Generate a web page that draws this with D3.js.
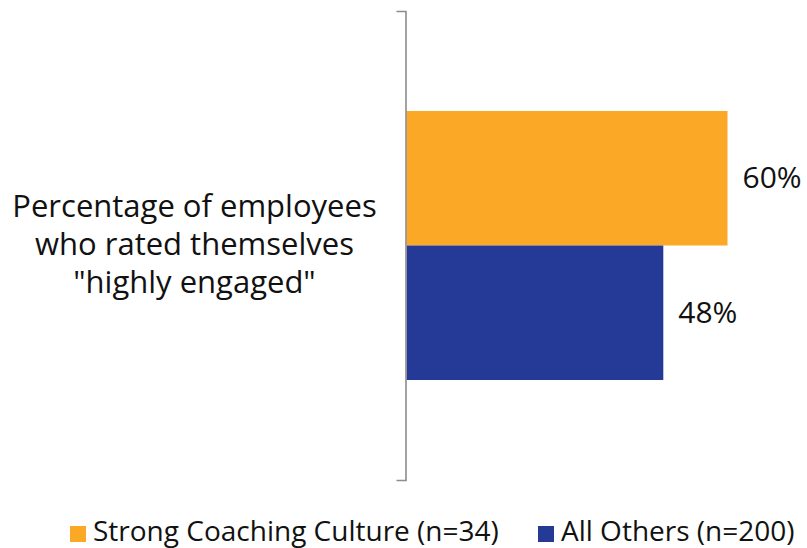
<!DOCTYPE html>
<html>
<head>
<meta charset="utf-8">
<script src="https://cdn.jsdelivr.net/npm/d3@7"></script>
<style>
  html, body { margin: 0; padding: 0; background: #fff; }
  svg { display: block; font-family: "Open Sans", Lato, sans-serif; }
</style>
</head>
<body>
<svg id="chart" width="807" height="548"></svg>
<script>
// Survey result: share of employees rating themselves "highly engaged"
const categories = ['Percentage of employees who rated themselves "highly engaged"'];
const categoryLines = ["Percentage of employees", "who rated themselves", "\"highly engaged\""];
const seriesNames = ["Strong Coaching Culture (n=34)", "All Others (n=200)"];
const seriesValues = [60, 48];
const seriesColors = ["#FBA827", "#243A96"];

const svg = d3.select("#chart");

const x = d3.scaleLinear().domain([0, 75]).range([406.5, 807.75]);
const y0 = d3.scaleBand().domain(categories).range([11, 480]);
const y1 = d3.scaleBand()
  .domain(seriesNames)
  .range([y0.bandwidth() * 0.2132, y0.bandwidth() * (1 - 0.2132)]);

// Bars
const g = svg.append("g").attr("transform", `translate(0,${y0(categories[0])})`);
g.selectAll("rect")
  .data(seriesNames.map((s, i) => ({ s, v: seriesValues[i], c: seriesColors[i] })))
  .join("rect")
  .attr("x", x(0))
  .attr("y", d => y1(d.s))
  .attr("width", d => x(d.v) - x(0))
  .attr("height", y1.bandwidth())
  .attr("fill", d => d.c);

// Value labels
g.selectAll("text.val")
  .data(seriesNames.map((s, i) => ({ s, v: seriesValues[i] })))
  .join("text")
  .attr("class", "val")
  .attr("x", d => x(d.v) + 15)
  .attr("y", d => y1(d.s) + y1.bandwidth() / 2)
  .attr("dy", "0.33em")
  .attr("font-size", 30)
  .attr("fill", "#111")
  .text(d => d.v + "%");

// Category axis: bracket-like domain line with outer ticks only
const axis = svg.append("g")
  .attr("transform", "translate(405.5,0)")
  .call(d3.axisLeft(y0).tickSize(0).tickSizeOuter(9).tickFormat(""));
axis.select(".domain").attr("stroke", "#8C8C8C").attr("stroke-width", 1.6);

// Category label (wrapped over three lines)
const lab = svg.append("text")
  .attr("text-anchor", "middle")
  .attr("font-size", 31)
  .attr("fill", "#111");
const midY = y0(categories[0]) + y0.bandwidth() / 2;
categoryLines.forEach((t, i) => {
  lab.append("tspan")
    .attr("x", 194.5)
    .attr("y", midY + (i - 1) * 38 + 9.5)
    .text(t);
});

// Legend
const legend = svg.append("g");
const legendPos = [70, 538];
seriesNames.forEach((s, i) => {
  const lg = legend.append("g").attr("transform", `translate(${legendPos[i]},526)`);
  lg.append("rect").attr("width", 16).attr("height", 16).attr("fill", seriesColors[i]);
  lg.append("text")
    .attr("x", 23)
    .attr("y", 15)
    .attr("font-size", 28)
    .attr("fill", "#111")
    .text(s);
});
</script>
</body>
</html>
